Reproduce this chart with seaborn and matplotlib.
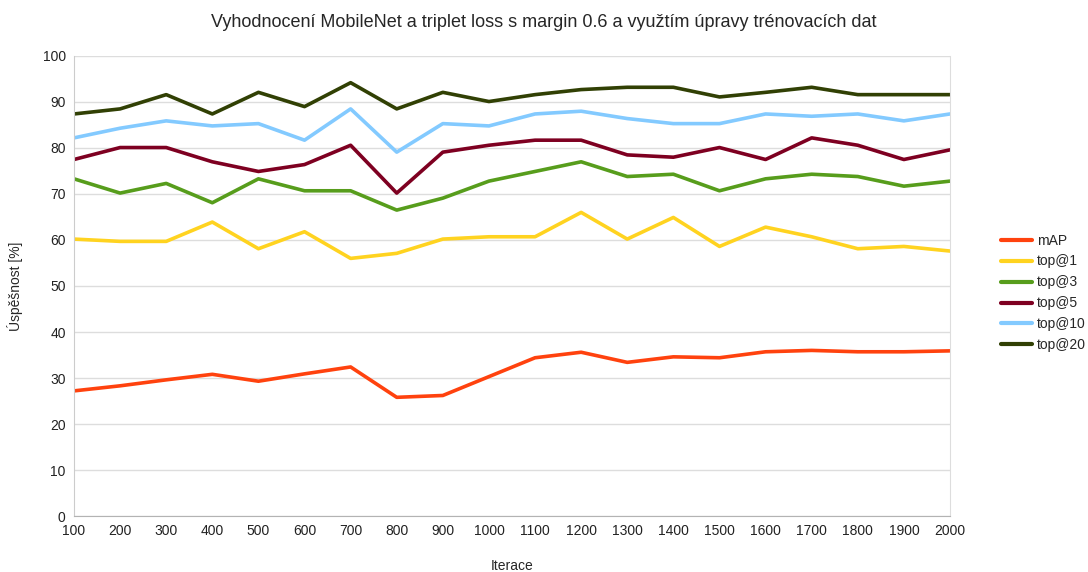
import matplotlib
matplotlib.use("Agg")
import matplotlib.pyplot as plt
import seaborn as sns
import pandas as pd

iterations = [100, 200, 300, 400, 500, 600, 700, 800, 900, 1000,
              1100, 1200, 1300, 1400, 1500, 1600, 1700, 1800, 1900, 2000]
mAP = [27.2, 28.3, 29.6, 30.8, 29.3, 30.9, 32.4, 25.8, 26.2, 30.3,
       34.4, 35.6, 33.4, 34.6, 34.4, 35.7, 36.0, 35.7, 35.7, 35.9]
top1 = [60.2, 59.7, 59.7, 63.9, 58.1, 61.8, 56.0, 57.1, 60.2, 60.7,
        60.7, 66.0, 60.2, 64.9, 58.6, 62.8, 60.7, 58.1, 58.6, 57.6]
top3 = [73.3, 70.2, 72.3, 68.1, 73.3, 70.7, 70.7, 66.5, 69.1, 72.8,
        74.9, 77.0, 73.8, 74.3, 70.7, 73.3, 74.3, 73.8, 71.7, 72.8]
top5 = [77.5, 80.1, 80.1, 77.0, 74.9, 76.4, 80.6, 70.2, 79.1, 80.6,
        81.7, 81.7, 78.5, 78.0, 80.1, 77.5, 82.2, 80.6, 77.5, 79.6]
top10 = [82.2, 84.3, 85.9, 84.8, 85.3, 81.7, 88.5, 79.1, 85.3, 84.8,
         87.4, 88.0, 86.4, 85.3, 85.3, 87.4, 86.9, 87.4, 85.9, 87.4]
top20 = [87.4, 88.5, 91.6, 87.4, 92.1, 89.0, 94.2, 88.5, 92.1, 90.1,
         91.6, 92.7, 93.2, 93.2, 91.1, 92.1, 93.2, 91.6, 91.6, 91.6]

series_names = ["mAP", "top@1", "top@3", "top@5", "top@10", "top@20"]
series_values = [mAP, top1, top3, top5, top10, top20]
colors = ["#ff420e", "#ffd320", "#579d1c", "#7e0021", "#83caff", "#314004"]

rows = []
for name, vals in zip(series_names, series_values):
    for it, v in zip(iterations, vals):
        rows.append({"Iterace": it, "value": v, "series": name})
df = pd.DataFrame(rows)

sns.set_style("white")
plt.rcParams['font.family'] = ['Liberation Sans', 'DejaVu Sans']

fig = plt.figure(figsize=(10.88, 5.72), dpi=100)
ax = fig.add_axes([74/1088, 1-516/572, (950-74)/1088, (516-56)/572])

sns.lineplot(data=df, x="Iterace", y="value", hue="series",
             hue_order=series_names, palette=colors, linewidth=2.6,
             ax=ax, legend=True)

ax.set_xlim(100, 2000)
ax.set_ylim(0, 100)
ax.set_xticks(iterations)
ax.set_xticklabels([str(i) for i in iterations], fontsize=10)
ax.set_yticks(range(0, 101, 10))
ax.set_yticklabels([str(i) for i in range(0, 101, 10)], fontsize=10)
ax.tick_params(axis='both', length=0, pad=6, colors='#222222')
ax.yaxis.grid(True, color='#dddddd', linewidth=1)
ax.set_axisbelow(True)
ax.spines['top'].set_visible(False)
ax.spines['left'].set_color('#cccccc')
ax.spines['right'].set_color('#dddddd')
ax.spines['bottom'].set_color('#b3b3b3')

ax.set_xlabel("Iterace", fontsize=10, labelpad=15)
ax.set_ylabel("Úspěšnost [%]", fontsize=10, labelpad=14)
fig.suptitle("Vyhodnocení MobileNet a triplet loss s margin 0.6 a využtím úpravy trénovacích dat",
             fontsize=13, y=0.975)

leg = ax.legend(title=None, loc='center left', bbox_to_anchor=(1.052, 0.485),
                frameon=False, fontsize=10, handlelength=2.2, handletextpad=0.4,
                labelspacing=0.5, borderaxespad=0.0)
for line in leg.get_lines():
    line.set_linewidth(3)

fig.savefig("out.png", dpi=100)
